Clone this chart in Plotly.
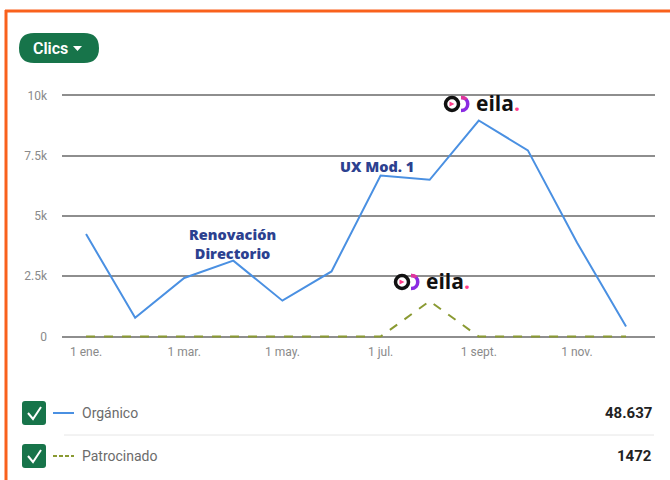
import plotly.graph_objects as go

# monthly clicks
months = ["ene.", "feb.", "mar.", "abr.", "may.", "jun.",
          "jul.", "ago.", "sept.", "oct.", "nov.", "dic."]
organico = [4250, 780, 2430, 3150, 1490, 2700, 6680, 6500, 8960, 7720, 3900, 420]
patrocinado = [0, 0, 0, 0, 0, 0, 0, 1472, 0, 0, 0, 0]

tick_months = ["ene.", "mar.", "may.", "jul.", "sept.", "nov."]
y_ticks = [0, 2500, 5000, 7500, 10000]
y_labels = ["0", "2.5k", "5k", "7.5k", "10k"]

series_names = ["Orgánico", "Patrocinado"]
series_totals = ["48.637", "1472"]
series_colors = ["#4a90e2", "#8a9a32"]

# figure geometry in pixels
FW, FH = 670, 480
ML, MR, MT, MB = 62, 15, 93, 141
PW, PH = FW - ML - MR, FH - MT - MB


def px(x, y):
    # pixel -> paper coordinates
    return (x - ML) / PW, (FH - MB - y) / PH


def pstr(x, y):
    a, b = px(x, y)
    return f"{a:.5f},{b:.5f}"


def rounded(x0, y0, x1, y1, r):
    return ("M" + pstr(x0 + r, y0) + " L" + pstr(x1 - r, y0) +
            " Q" + pstr(x1, y0) + " " + pstr(x1, y0 + r) +
            " L" + pstr(x1, y1 - r) +
            " Q" + pstr(x1, y1) + " " + pstr(x1 - r, y1) +
            " L" + pstr(x0 + r, y1) +
            " Q" + pstr(x0, y1) + " " + pstr(x0, y1 - r) +
            " L" + pstr(x0, y0 + r) +
            " Q" + pstr(x0, y0) + " " + pstr(x0 + r, y0) + " Z")


fig = go.Figure()
fig.add_trace(go.Scatter(x=months, y=organico, mode="lines", name=series_names[0],
                         line=dict(color=series_colors[0], width=2)))
fig.add_trace(go.Scatter(x=months, y=patrocinado, mode="lines", name=series_names[1],
                         line=dict(color=series_colors[1], width=2, dash="dash")))

shapes = []
annotations = []

# orange frame
shapes.append(dict(type="line", xref="paper", yref="paper",
                   x0=px(5, 11)[0], y0=px(5, 11)[1], x1=px(672, 11)[0], y1=px(672, 11)[1],
                   line=dict(color="#f9611c", width=3)))
shapes.append(dict(type="line", xref="paper", yref="paper",
                   x0=px(6, 10)[0], y0=px(6, 10)[1], x1=px(6, 482)[0], y1=px(6, 482)[1],
                   line=dict(color="#f9611c", width=3)))

# "Clics" pill
shapes.append(dict(type="path", xref="paper", yref="paper", path=rounded(19, 33, 99, 63, 15),
                   fillcolor="#17744a", line=dict(width=0)))
shapes.append(dict(type="path", xref="paper", yref="paper",
                   path="M" + pstr(73, 46) + " L" + pstr(82, 46) + " L" + pstr(77.5, 51) + " Z",
                   fillcolor="white", line=dict(width=0)))
x, y = px(31, 48)
annotations.append(dict(xref="paper", yref="paper", x=x, y=y, xanchor="left", yanchor="middle",
                        text="Clics", showarrow=False,
                        font=dict(family="Roboto", size=16, color="white", weight=600)))

# chart annotations
x, y = px(232, 244)
annotations.append(dict(xref="paper", yref="paper", x=x, y=y, xanchor="center", yanchor="middle",
                        text="Renovación<br>Directorio", showarrow=False, align="center",
                        font=dict(family="Open Sans", size=14.5, color="#2c4190", weight=800)))
x, y = px(377, 166)
annotations.append(dict(xref="paper", yref="paper", x=x, y=y, xanchor="center", yanchor="middle",
                        text="UX Mod. 1", showarrow=False,
                        font=dict(family="Open Sans", size=14.5, color="#2c4190", weight=800)))


def logo(cx, cy):
    a0, b0 = px(cx - 6.5, cy - 6.5)
    a1, b1 = px(cx + 6.5, cy + 6.5)
    shapes.append(dict(type="circle", xref="paper", yref="paper", x0=a0, y0=b0, x1=a1, y1=b1,
                       line=dict(color="#111111", width=3.5)))
    shapes.append(dict(type="path", xref="paper", yref="paper",
                       path="M" + pstr(cx - 2.5, cy - 2.5) + " L" + pstr(cx + 2.5, cy) +
                            " L" + pstr(cx - 2.5, cy + 2.5) + " Z",
                       fillcolor="#ff3d8b", line=dict(width=0)))
    # half ring
    shapes.append(dict(type="path", xref="paper", yref="paper",
                       path="M" + pstr(cx + 9, cy - 6.5) + " C" + pstr(cx + 18, cy - 6.5) + " " +
                            pstr(cx + 18, cy + 6.5) + " " + pstr(cx + 9, cy + 6.5),
                       line=dict(color="#8a2be2", width=3.5)))
    shapes.append(dict(type="path", xref="paper", yref="paper",
                       path="M" + pstr(cx + 9, cy - 6.5) + " C" + pstr(cx + 12, cy - 6.5) + " " +
                            pstr(cx + 13.5, cy - 5.5) + " " + pstr(cx + 14, cy - 4.5),
                       line=dict(color="#e0359b", width=3.5)))
    x, y = px(cx + 22, cy - 1)
    annotations.append(dict(xref="paper", yref="paper", x=x, y=y, xanchor="left", yanchor="middle",
                            text="eila<span style='color:#ff3d8b'>.</span>", showarrow=False,
                            font=dict(family="Open Sans", size=21, color="#111111", weight=700)))


logo(452, 104)
logo(402, 282)

# legend rows
rows_y = [413, 456]
for i in range(2):
    ry = rows_y[i]
    shapes.append(dict(type="path", xref="paper", yref="paper",
                       path=rounded(22, ry - 12, 46, ry + 12, 3),
                       fillcolor="#17744a", line=dict(width=0)))
    shapes.append(dict(type="path", xref="paper", yref="paper",
                       path="M" + pstr(28, ry) + " L" + pstr(33, ry + 6) + " L" + pstr(41, ry - 6),
                       line=dict(color="white", width=2)))
    a0, b0 = px(53, ry)
    a1, b1 = px(74, ry)
    shapes.append(dict(type="line", xref="paper", yref="paper", x0=a0, y0=b0, x1=a1, y1=b1,
                       line=dict(color=series_colors[i], width=2,
                                 dash="solid" if i == 0 else "4px,2px")))
    x, y = px(80, ry)
    annotations.append(dict(xref="paper", yref="paper", x=x, y=y, xanchor="left", yanchor="middle",
                            text=series_names[i], showarrow=False,
                            font=dict(family="Roboto", size=14, color="#6b6b6b")))
    x, y = px(654, ry)
    annotations.append(dict(xref="paper", yref="paper", x=x, y=y, xanchor="right", yanchor="middle",
                            text=series_totals[i], showarrow=False,
                            font=dict(family="Roboto", size=15, color="#222222", weight=700)))

a0, b0 = px(64, 435)
a1, b1 = px(654, 435)
shapes.append(dict(type="line", xref="paper", yref="paper", x0=a0, y0=b0, x1=a1, y1=b1,
                   line=dict(color="#e6e6e6", width=1)))

fig.update_layout(
    width=FW, height=FH, autosize=False,
    margin=dict(l=ML, r=MR, t=MT, b=MB),
    paper_bgcolor="white", plot_bgcolor="white",
    showlegend=False,
    shapes=shapes, annotations=annotations,
    xaxis=dict(type="category", range=[-0.49, 11.59], tickmode="array",
               tickvals=tick_months, ticktext=["1 " + m for m in tick_months],
               showgrid=False, zeroline=False, showline=False, ticks="",
               ticklabelstandoff=4,
               tickfont=dict(family="Roboto", size=12, color="#8a8a8a")),
    yaxis=dict(range=[-100, 10100], tickmode="array", tickvals=y_ticks, ticktext=y_labels,
               showgrid=True, gridcolor="#8e8e8e", gridwidth=1.5, zeroline=False,
               showline=False, ticks="", ticklabelstandoff=14,
               tickfont=dict(family="Roboto", size=12, color="#8a8a8a")),
)

# page body has a default margin; drop it so the figure fills the window
fig.write_html("out.html", config={"displayModeBar": False},
               post_script="document.body.style.margin='0';")
